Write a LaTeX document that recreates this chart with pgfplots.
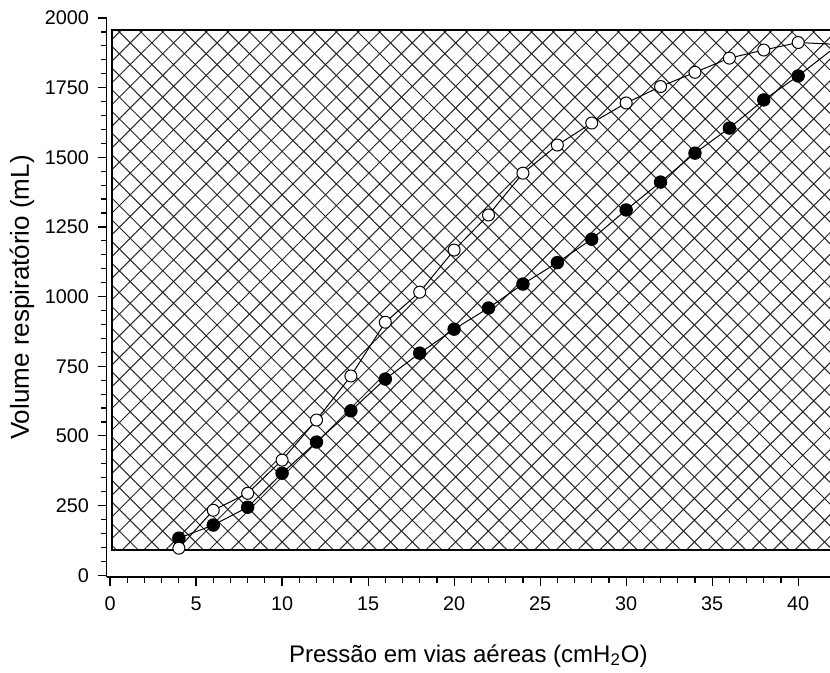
\documentclass[border=0pt]{standalone}
\usepackage{fontspec}
\setmainfont{Liberation Sans}
\usepackage{pgfplots}
\pgfplotsset{compat=1.18}
\usetikzlibrary{patterns.meta}
\begin{document}
\begin{tikzpicture}
\begin{axis}[
  scale only axis, width=361.6bp, height=279.5bp,
  xmin=-0.2, xmax=41.85, ymin=-7, ymax=2000,
  axis x line=bottom, axis y line=left,
  axis line style={-, line width=0.65bp, black},
  xtick={0,5,...,40}, ytick={0,250,...,2000},
  minor x tick num=4, minor y tick num=4,
  tick align=outside, major tick length=4.3bp, minor tick length=2.8bp,
  tick style={black, line width=0.6bp},
  /pgf/number format/assume math mode=true,
  /pgf/number format/1000 sep={},
  ticklabel style={font=\fontsize{9.9bp}{11bp}\selectfont},
  xticklabel style={anchor=north, yshift=-2bp},
  yticklabel style={anchor=east, xshift=-1bp},
  xlabel={Pressão em vias aéreas (cmH\textsubscript{2}O)},
  ylabel={Volume respiratório (mL)},
  xlabel style={font=\fontsize{12bp}{14bp}\selectfont, at={(axis description cs:0.5,0)}, anchor=base, yshift=-42.5bp},
  ylabel style={font=\fontsize{13bp}{15bp}\selectfont, at={(axis description cs:0,0.5)}, anchor=center, yshift=42.3bp},
]
% hatched region
\addplot[draw=none, pattern={Lines[angle=45, distance=7.67bp, line width=0.5bp]}, pattern color=black!85]
  coordinates {(0.12,90) (45,90) (45,1957) (0.12,1957)} -- cycle;
\addplot[draw=black, line width=1bp, pattern={Lines[angle=-45, distance=7.67bp, line width=0.5bp]}, pattern color=black!85]
  coordinates {(0.12,90) (45,90) (45,1957) (0.12,1957)} -- cycle;
% inflation (filled)
\addplot[black, line width=0.5bp, mark=*, mark size=3.1bp, mark options={fill=black, draw=black}]
  coordinates {(4,133) (6,180) (8,244) (10,366) (12,478) (14,590) (16,704) (18,797) (20,883) (22,959) (24,1045) (26,1122) (28,1206) (30,1311) (32,1411) (34,1515) (36,1605) (38,1706) (40,1792) (42,1888)};
% deflation (open) line
\addplot[black, line width=0.5bp]
  coordinates {(4,97) (6,233) (8,294) (10,413) (12,557) (14,715) (16,908) (18,1016) (20,1167) (22,1293) (24,1443) (26,1544) (28,1623) (30,1695) (32,1754) (34,1805) (36,1856) (38,1885) (40,1912) (42,1906)};
\addplot[only marks, mark=*, mark size=3bp, mark options={fill=white, draw=black, line width=0.5bp}]
  coordinates {(4,97) (6,233) (8,294) (10,413) (12,557) (14,715) (16,908) (18,1016) (20,1167) (22,1293) (24,1443) (26,1544) (28,1623) (30,1695) (32,1754) (34,1805) (36,1856) (38,1885) (40,1912)};
\end{axis}
\pgfresetboundingbox
\path[use as bounding box] ([xshift=-53.3bp,yshift=-47.5bp]current axis.south west) rectangle ([yshift=9bp]current axis.north east);
\end{tikzpicture}
\end{document}
